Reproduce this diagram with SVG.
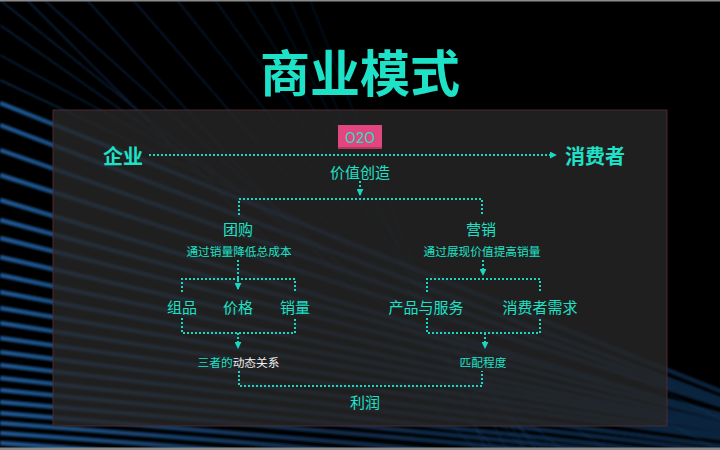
<svg xmlns="http://www.w3.org/2000/svg" width="720" height="450" viewBox="0 0 720 450">
  <defs>
    <linearGradient id="stripe" gradientUnits="userSpaceOnUse" x1="0" y1="0" x2="720" y2="0">
      <stop offset="0" stop-color="#2262a4" stop-opacity="0.9"/>
      <stop offset="0.45" stop-color="#1c4f88" stop-opacity="0.55"/>
      <stop offset="1" stop-color="#1c4f88" stop-opacity="0.45"/>
    </linearGradient>
    <linearGradient id="thin" gradientUnits="userSpaceOnUse" x1="0" y1="0" x2="400" y2="0">
      <stop offset="0" stop-color="#174277" stop-opacity="0.7"/>
      <stop offset="1" stop-color="#0c2444" stop-opacity="0.45"/>
    </linearGradient>
    <filter id="soft" x="-5%" y="-5%" width="110%" height="110%">
      <feGaussianBlur stdDeviation="0.8"/>
    </filter>
    <marker id="arr" viewBox="0 0 8 8" refX="7" refY="4" markerWidth="7" markerHeight="7" markerUnits="userSpaceOnUse" orient="auto">
      <path d="M0,0 L8,4 L0,8 Z" fill="#19d8c2"/>
    </marker>
  </defs>
  <style>
    .t { font-family: "Noto Sans CJK SC", "Noto Sans", sans-serif; fill: #1ee2c8; text-anchor: middle; dominant-baseline: central; }
    .b { font-weight: 700; }
    .m { font-size: 15px; }
    .s { font-size: 11.7px; }
    .c { fill: none; stroke: #19d8c2; stroke-width: 2; stroke-dasharray: 2 2; }
    .st { fill: none; stroke: url(#stripe); stroke-width: 4.5; }
    .tl { fill: none; stroke: url(#thin); stroke-width: 1.4; }
  </style>

  <rect x="0" y="0" width="720" height="450" fill="#000"/>

  <g id="background-lines" filter="url(#soft)">
    <path class="tl" d="M27,0 L787,760 M87,0 L847,836 M133,0 L893,874 M177,0 L937,950 M215,0 L975,1064 M245,0 L1005,1216 M270,0 L1030,1444 M290,0 L1050,1748 M310,0 L700,1000"/>
    <path class="tl" d="M0,-40 L760,644 M0,0 L760,608 M0,25 L760,557 M0,55 L760,473 M0,80 L760,437"/>
    <path class="st" d="M0,103 L760,407 M0,125 L760,414 M0,150 L760,416 M0,175 L760,418 M0,200 L760,428 M0,220 L760,425 M0,238 L760,428 M0,257 L760,432 M0,275 L760,435 M0,292 L760,436 M0,308 L760,437 M0,323 L760,441 M0,338 L760,444"/>
    <path class="st" stroke-width="3.5" d="M0,352 L760,451 M0,365 L760,456 M0,378 L760,462 M0,390 L760,466 M0,402 L760,470 M0,413 L760,478 M0,423 L760,484 M0,433 L760,490 M0,443 L760,496 M0,452 L760,501"/>
  </g>

  <rect x="0" y="0" width="720" height="1.5" fill="#8a8a8a"/>
  <rect x="0" y="447.5" width="720" height="2.5" fill="#8a8a8a"/>

  <rect id="panel" x="53" y="110" width="614" height="316" fill="#272727" fill-opacity="0.8" stroke="#4a2a32" stroke-width="1"/>

  <g id="title">
    <text class="t b" x="360" y="70" font-size="50">商业模式</text>
  </g>

  <g id="connectors">
    <path class="c" d="M149,155 H556" marker-end="url(#arr)"/>
    <path class="c" d="M360,181 V195" marker-end="url(#arr)"/>
    <path class="c" d="M239,215 V199 H482 V215"/>
    <path class="c" d="M238,260 V289" marker-end="url(#arr)"/>
    <path class="c" d="M182,292 V279 H295 V292"/>
    <path class="c" d="M483,260 V275" marker-end="url(#arr)"/>
    <path class="c" d="M427,292 V279 H540 V292"/>
    <path class="c" d="M182,318 V333 H295 V318"/>
    <path class="c" d="M238,333 V348" marker-end="url(#arr)"/>
    <path class="c" d="M427,318 V333 H540 V318"/>
    <path class="c" d="M485,333 V348" marker-end="url(#arr)"/>
    <path class="c" d="M239,371 V386 H482 V371"/>
  </g>

  <g id="node-qiye"><text class="t b" x="123" y="155" font-size="20">企业</text></g>
  <g id="node-xiaofeizhe"><text class="t b" x="595" y="155" font-size="20">消费者</text></g>
  <g id="node-o2o">
    <rect x="338" y="125" width="44" height="24" fill="#e2467e"/>
    <rect x="338" y="147" width="44" height="2" fill="#b83564"/>
    <text class="t" x="360" y="137" font-size="14" style="font-family: Inter, 'Noto Sans', sans-serif;">O2O</text>
  </g>
  <g id="node-jiazhi"><text class="t m" x="360" y="171">价值创造</text></g>

  <g id="node-tuangou">
    <text class="t m" x="238" y="228">团购</text>
    <text class="t s" x="239" y="250">通过销量降低总成本</text>
  </g>
  <g id="node-yingxiao">
    <text class="t m" x="481" y="228">营销</text>
    <text class="t s" x="482" y="250">通过展现价值提高销量</text>
  </g>

  <g id="node-zupin"><text class="t m" x="182" y="306">组品</text></g>
  <g id="node-jiage"><text class="t m" x="238" y="306">价格</text></g>
  <g id="node-xiaoliang"><text class="t m" x="295" y="306">销量</text></g>
  <g id="node-chanpin"><text class="t m" x="426" y="306">产品与服务</text></g>
  <g id="node-xuqiu"><text class="t m" x="540" y="306">消费者需求</text></g>

  <g id="node-sanzhe"><text class="t s" x="238.5" y="361">三者的<tspan fill="#f2f2f2">动态关系</tspan></text></g>
  <g id="node-pipei"><text class="t s" x="483" y="361">匹配程度</text></g>

  <g id="node-lirun"><text class="t m" x="365" y="401">利润</text></g>
</svg>
